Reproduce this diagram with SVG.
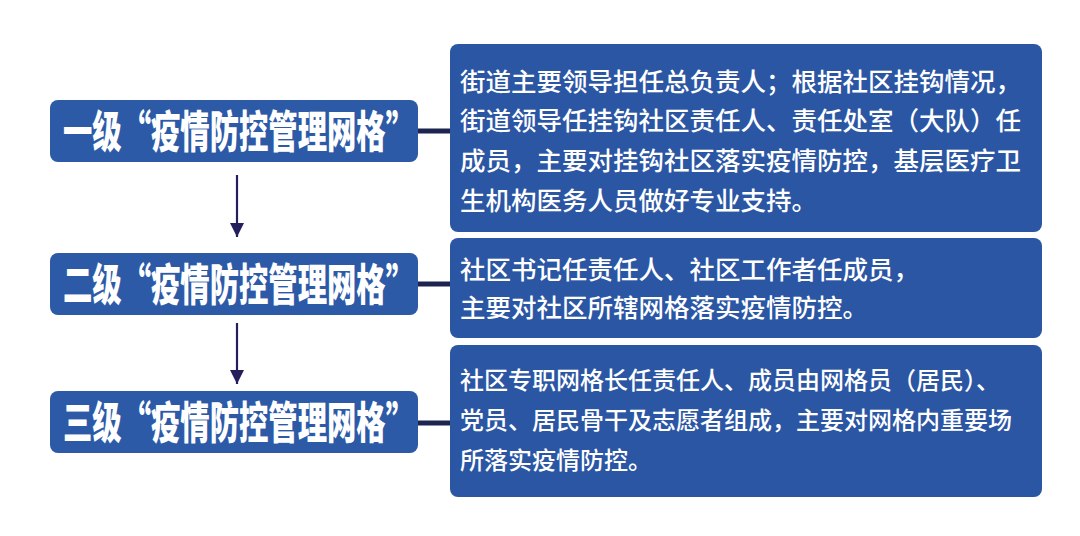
<svg xmlns="http://www.w3.org/2000/svg" width="1080" height="536" viewBox="0 0 1080 536">
<defs>
<style>
.lbox{fill:#2c5aa7;}
.rbox{fill:#2b56a4;}
.ltxt{font-family:"Noto Sans CJK SC","Noto Sans CJK JP",sans-serif;font-weight:900;font-size:44px;fill:#ffffff;}
.rtxt{font-family:"Noto Sans CJK SC","Noto Sans CJK JP",sans-serif;font-weight:500;font-size:25.5px;fill:#ffffff;}
.rtxt2{font-family:"Noto Sans CJK SC","Noto Sans CJK JP",sans-serif;font-weight:500;font-size:24px;fill:#ffffff;}
.conn{stroke:#1d2450;stroke-width:5;fill:none;}
.arr{stroke:#241f5c;stroke-width:2.2;fill:none;}
</style>
<marker id="ah" markerWidth="14" markerHeight="14" viewBox="0 0 14 14" refX="14" refY="7" orient="auto" markerUnits="userSpaceOnUse">
<path d="M0,0 L14,7 L0,14 Z" fill="#241f5c"/>
</marker>
</defs>
<rect width="1080" height="536" fill="#ffffff"/>
<g id="connectors">
<line class="conn" x1="416" y1="131" x2="452" y2="131"/>
<line class="conn" x1="416" y1="284" x2="452" y2="284"/>
<line class="conn" x1="416" y1="423" x2="452" y2="423"/>
<line class="arr" x1="237" y1="175" x2="237" y2="237" marker-end="url(#ah)"/>
<line class="arr" x1="237" y1="323" x2="237" y2="384" marker-end="url(#ah)"/>
</g>
<g id="level1">
<rect class="lbox" x="50" y="100" width="368" height="62" rx="8"/>
<text class="ltxt" x="63" y="148" textLength="352" lengthAdjust="spacingAndGlyphs">一级“疫情防控管理网格”</text>
</g>
<g id="level2">
<rect class="lbox" x="50" y="253" width="368" height="62" rx="8"/>
<text class="ltxt" x="63" y="301" textLength="352" lengthAdjust="spacingAndGlyphs">二级“疫情防控管理网格”</text>
</g>
<g id="level3">
<rect class="lbox" x="50" y="391" width="368" height="62" rx="8"/>
<text class="ltxt" x="63" y="439" textLength="352" lengthAdjust="spacingAndGlyphs">三级“疫情防控管理网格”</text>
</g>
<g id="desc1">
<rect class="rbox" x="450" y="44" width="592" height="188" rx="8"/>
<text class="rtxt"><tspan x="460" y="91">街道主要领导担任总负责人；根据社区挂钩情况，</tspan><tspan x="460" y="130">街道领导任挂钩社区责任人、责任处室（大队）任</tspan><tspan x="460" y="170">成员，主要对挂钩社区落实疫情防控，基层医疗卫</tspan><tspan x="460" y="210">生机构医务人员做好专业支持。</tspan></text>
</g>
<g id="desc2">
<rect class="rbox" x="450" y="238" width="592" height="100" rx="8"/>
<text class="rtxt"><tspan x="460" y="279">社区书记任责任人、社区工作者任成员，</tspan><tspan x="460" y="317">主要对社区所辖网格落实疫情防控。</tspan></text>
</g>
<g id="desc3">
<rect class="rbox" x="450" y="345" width="592" height="152" rx="8"/>
<text class="rtxt2"><tspan x="460" y="389">社区专职网格长任责任人、成员由网格员（居民）、</tspan><tspan x="460" y="429">党员、居民骨干及志愿者组成，主要对网格内重要场</tspan><tspan x="460" y="469">所落实疫情防控。</tspan></text>
</g>
</svg>
